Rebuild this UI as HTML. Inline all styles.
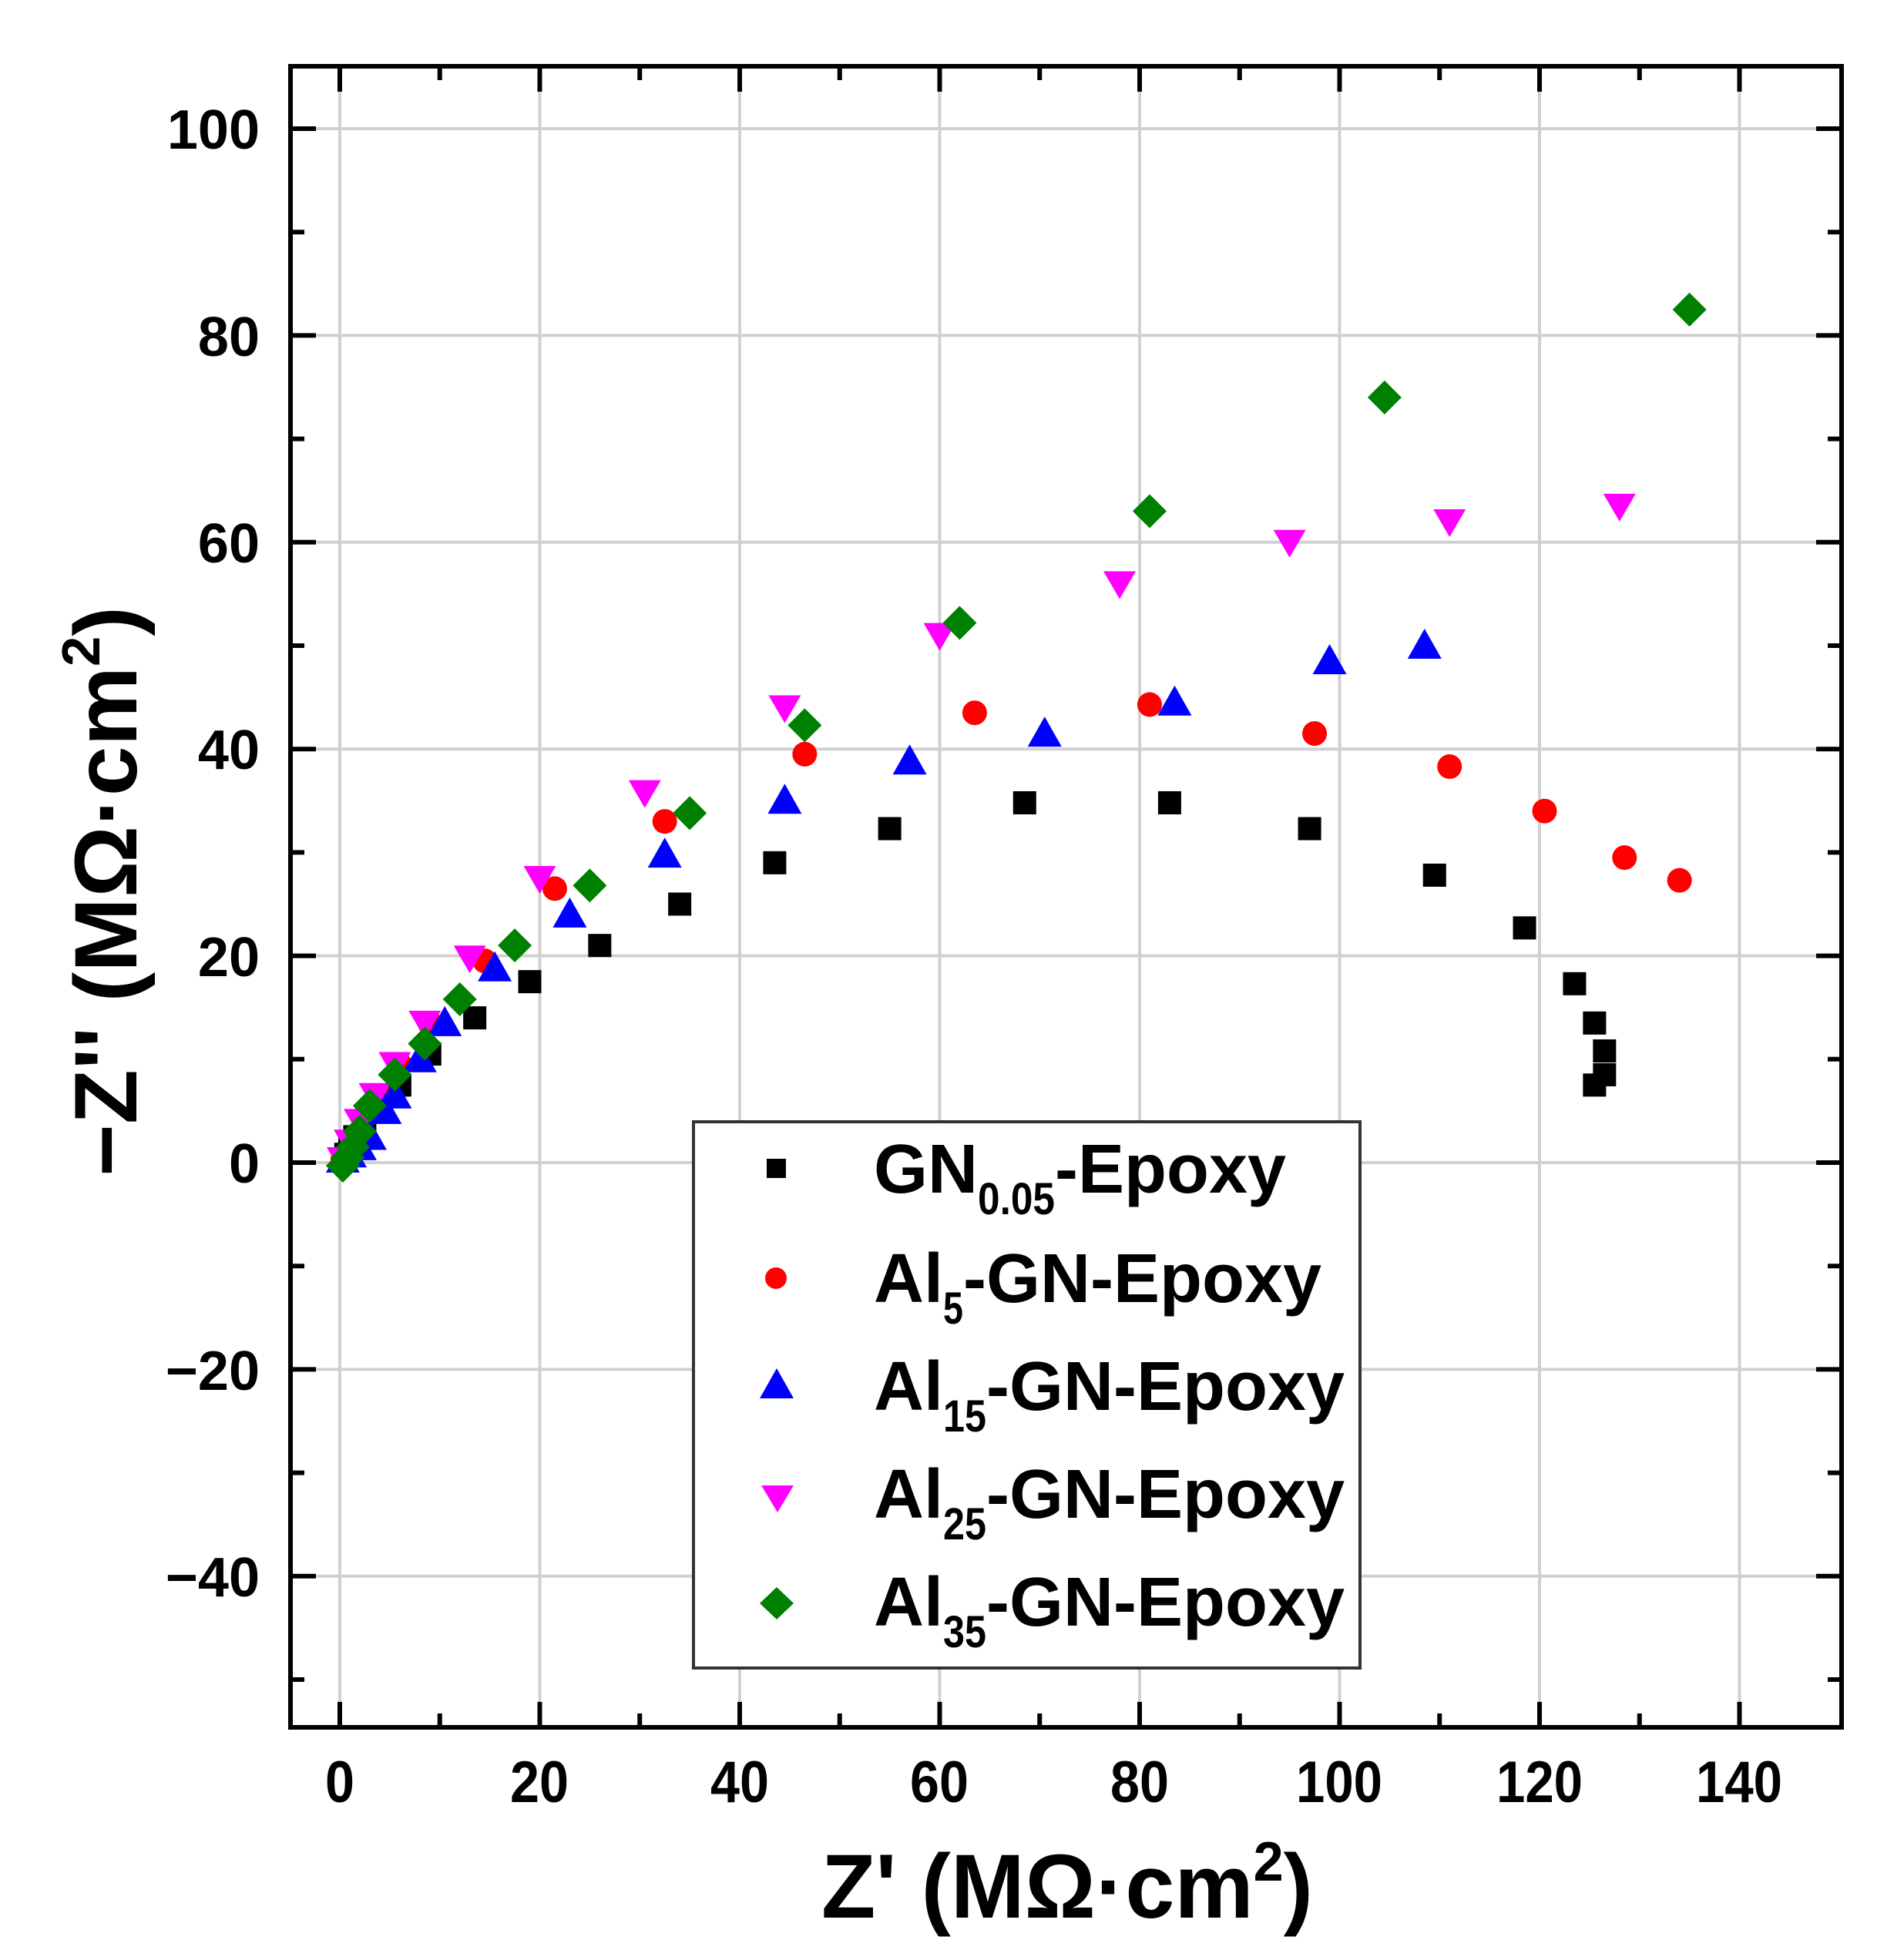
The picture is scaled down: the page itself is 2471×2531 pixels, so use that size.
<!DOCTYPE html>
<html><head><meta charset="utf-8"><style>
html,body{margin:0;padding:0;background:#fff;}
svg{display:block;}
text{font-family:"Liberation Sans",Arial,sans-serif;font-weight:bold;fill:#000;}
</style></head><body>
<svg id="s" width="2471" height="2531" viewBox="0 0 2471 2531" xmlns="http://www.w3.org/2000/svg">
<g id="grid"></g>
<g id="ticks"></g>
<g id="pts"></g>
<rect x="377" y="86" width="2013" height="2156" fill="none" stroke="#000" stroke-width="6"/>
<g font-size="72" text-anchor="end">
<text x="337" y="193">100</text>
<text x="337" y="462">80</text>
<text x="337" y="730">60</text>
<text x="337" y="998">40</text>
<text x="337" y="1267">20</text>
<text x="337" y="1535">0</text>
<text x="337" y="1804">−20</text>
<text x="337" y="2072">−40</text>
</g>
<g font-size="76" text-anchor="middle">
<text x="441" y="2339" textLength="38" lengthAdjust="spacingAndGlyphs">0</text>
<text x="700" y="2339" textLength="76" lengthAdjust="spacingAndGlyphs">20</text>
<text x="960" y="2339" textLength="76" lengthAdjust="spacingAndGlyphs">40</text>
<text x="1219" y="2339" textLength="76" lengthAdjust="spacingAndGlyphs">60</text>
<text x="1479" y="2339" textLength="76" lengthAdjust="spacingAndGlyphs">80</text>
<text x="1738" y="2339" textLength="112" lengthAdjust="spacingAndGlyphs">100</text>
<text x="1998" y="2339" textLength="112" lengthAdjust="spacingAndGlyphs">120</text>
<text x="2257" y="2339" textLength="112" lengthAdjust="spacingAndGlyphs">140</text>
</g>
<text x="1066" y="2489" font-size="118" textLength="638" lengthAdjust="spacingAndGlyphs">Z' (MΩ·cm<tspan font-size="72" dy="-48">2</tspan><tspan dy="48">)</tspan></text>
<text transform="translate(177,1527) rotate(-90)" font-size="115" textLength="740" lengthAdjust="spacingAndGlyphs">−Z'' (MΩ·cm<tspan font-size="70" dy="-48">2</tspan><tspan dy="48">)</tspan></text>
<rect x="900" y="1456" width="865" height="709" fill="#fff" stroke="#333" stroke-width="4"/>
<rect x="995" y="1504" width="25" height="25" fill="#000"/>
<circle cx="1007" cy="1659" r="14" fill="#f00"/>
<polygon points="1008,1776 1030,1815 986,1815" fill="#00f"/>
<polygon points="988,1928 1030,1928 1009,1963" fill="#f0f"/>
<polygon points="1008,2060 1030,2081 1008,2102 986,2081" fill="#008000"/>
<g font-size="90">
<text x="1134" y="1548">GN<tspan font-size="58" dy="28" textLength="100" lengthAdjust="spacingAndGlyphs">0.05</tspan><tspan dy="-28">-Epoxy</tspan></text>
<text x="1134" y="1690">Al<tspan font-size="58" dy="28" textLength="26" lengthAdjust="spacingAndGlyphs">5</tspan><tspan dy="-28">-GN-Epoxy</tspan></text>
<text x="1134" y="1830">Al<tspan font-size="58" dy="28" textLength="56" lengthAdjust="spacingAndGlyphs">15</tspan><tspan dy="-28">-GN-Epoxy</tspan></text>
<text x="1134" y="1970">Al<tspan font-size="58" dy="28" textLength="56" lengthAdjust="spacingAndGlyphs">25</tspan><tspan dy="-28">-GN-Epoxy</tspan></text>
<text x="1134" y="2110">Al<tspan font-size="58" dy="28" textLength="56" lengthAdjust="spacingAndGlyphs">35</tspan><tspan dy="-28">-GN-Epoxy</tspan></text>
</g>
</svg>
<script>
(function(){
var NS="http://www.w3.org/2000/svg";
function X(v){return 441+12.975*v;}
function Y(v){return 1509-13.42*v;}
function el(p,t,a){var e=document.createElementNS(NS,t);for(var k in a)e.setAttribute(k,a[k]);document.getElementById(p).appendChild(e);return e;}
for(var v=0;v<=140;v+=20)el("grid","line",{x1:X(v),x2:X(v),y1:89,y2:2239,stroke:"#d0d0d0","stroke-width":4});
for(var v=-40;v<=100;v+=20)el("grid","line",{x1:380,x2:2387,y1:Y(v),y2:Y(v),stroke:"#d0d0d0","stroke-width":4});
for(var v=0;v<=140;v+=10){var L=(v%20==0)?33:18;
 el("ticks","line",{x1:X(v),x2:X(v),y1:2242,y2:2242-L,stroke:"#000","stroke-width":6});
 el("ticks","line",{x1:X(v),x2:X(v),y1:86,y2:86+L,stroke:"#000","stroke-width":6});}
for(var v=-50;v<=100;v+=10){var L=(v%20==0)?33:18;
 el("ticks","line",{x1:377,x2:377+L,y1:Y(v),y2:Y(v),stroke:"#000","stroke-width":6});
 el("ticks","line",{x1:2390,x2:2390-L,y1:Y(v),y2:Y(v),stroke:"#000","stroke-width":6});}
var blk=[[0.3,0.3],[0.6,0.8],[1,1.5],[1.5,2.5],[2.5,4],[4,5.5],[6,7.5],[9,10.5],[13.5,14],[19,17.5],[26,21],[34,25],[43.5,29],[55,32.3],[68.5,34.8],[83,34.8],[97,32.3],[109.5,27.8],[118.5,22.7],[123.5,17.3],[125.5,13.5],[126.5,10.8],[126.5,8.5],[125.5,7.5]];
var red=[[0.3,0.3],[0.8,1],[1.5,2.5],[2.5,4.5],[4,6.5],[6,9.5],[9,13.5],[14.5,19.5],[21.5,26.5],[32.5,33],[46.5,39.5],[63.5,43.5],[81,44.3],[97.5,41.5],[111,38.3],[120.5,34],[128.5,29.5],[134,27.3]];
var blu=[[0.3,0.3],[1,0.8],[2,1.5],[3,2.5],[4.5,5],[5.5,6.5],[8,10],[10.5,13.5],[15.5,18.8],[23,24],[32.5,29.8],[44.5,35],[57,38.8],[70.5,41.5],[83.5,44.5],[99,48.5],[108.5,50]];
var mag=[[0.3,0.3],[1,2],[2,4],[3.5,6.5],[5.5,9.5],[8.5,13.5],[13,19.8],[20,27.5],[30.5,35.8],[44.5,44],[60,51],[78,56],[95,60],[111,62],[128,63.5]];
var grn=[[0.3,-0.3],[0.8,0.5],[1.3,1.5],[2,3],[3,5.5],[5.5,8.5],[8.5,11.5],[12,15.8],[17.5,21],[25,26.8],[35,33.8],[46.5,42.3],[62,52.2],[81,63],[104.5,74],[135,82.5]];
blk.forEach(function(p){el("pts","rect",{x:X(p[0])-15,y:Y(p[1])-15,width:30,height:30,fill:"#000"});});
red.forEach(function(p){el("pts","circle",{cx:X(p[0]),cy:Y(p[1]),r:16,fill:"#f00"});});
blu.forEach(function(p){var x=X(p[0]),y=Y(p[1]);el("pts","polygon",{points:x+","+(y-22)+" "+(x+22)+","+(y+17)+" "+(x-22)+","+(y+17),fill:"#00f"});});
mag.forEach(function(p){var x=X(p[0]),y=Y(p[1]);el("pts","polygon",{points:(x-21)+","+(y-16)+" "+(x+21)+","+(y-16)+" "+x+","+(y+20),fill:"#f0f"});});
grn.forEach(function(p){var x=X(p[0]),y=Y(p[1]);el("pts","polygon",{points:x+","+(y-22)+" "+(x+22)+","+y+" "+x+","+(y+22)+" "+(x-22)+","+y,fill:"#008000"});});
})();
</script>
</body></html>
